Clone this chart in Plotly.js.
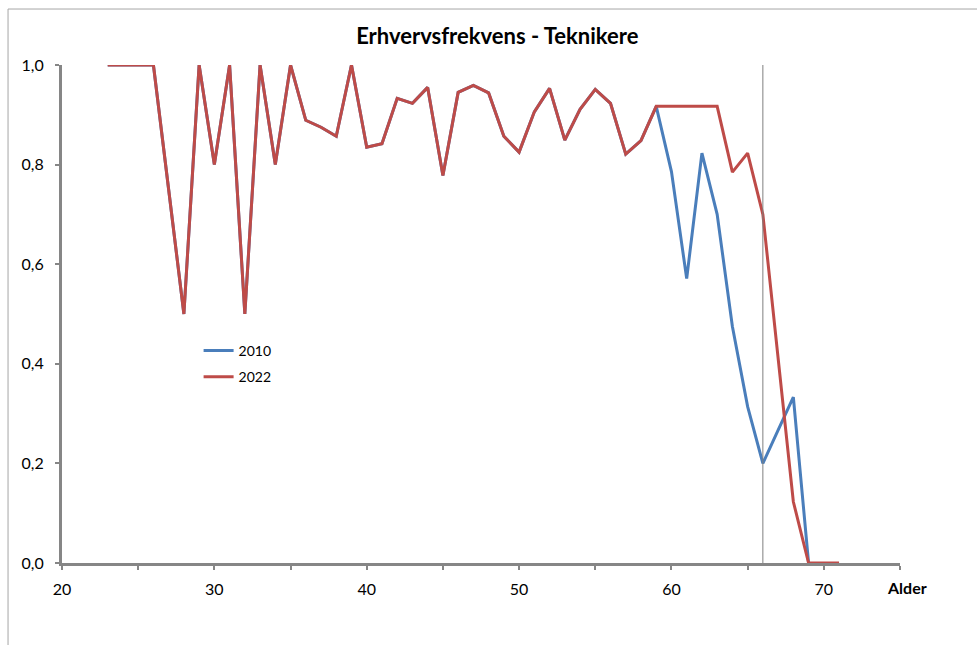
<!DOCTYPE html>
<html>
<head>
<meta charset="utf-8">
<script src="https://cdn.plot.ly/plotly-3.0.1.min.js"></script>
<style>html,body{margin:0;padding:0;background:#fff;}#chart{width:977px;height:645px;}</style>
</head>
<body>
<div id="chart"></div>
<script>
const ages2010 = [23,24,25,26,27,28,29,30,31,32,33,34,35,36,37,38,39,40,41,42,43,44,45,46,47,48,49,50,51,52,53,54,55,56,57,58,59,60,61,62,63,64,65,66,67,68,69];
const values2010 = [1,1,1,1,0.75,0.5,1,0.8,1,0.5,1,0.8,1,0.889,0.875,0.857,1,0.835,0.842,0.933,0.923,0.955,0.778,0.945,0.959,0.944,0.857,0.825,0.906,0.953,0.849,0.911,0.951,0.923,0.821,0.848,0.917,0.786,0.571,0.823,0.7,0.475,0.314,0.2,0.267,0.333,0];
const ages2022 = [23,24,25,26,27,28,29,30,31,32,33,34,35,36,37,38,39,40,41,42,43,44,45,46,47,48,49,50,51,52,53,54,55,56,57,58,59,60,61,62,63,64,65,66,67,68,69,70,71];
const values2022 = [1,1,1,1,0.75,0.5,1,0.8,1,0.5,1,0.8,1,0.889,0.875,0.857,1,0.835,0.842,0.933,0.923,0.955,0.778,0.945,0.959,0.944,0.857,0.825,0.906,0.953,0.849,0.911,0.951,0.923,0.821,0.848,0.917,0.917,0.917,0.917,0.917,0.785,0.823,0.7,0.41,0.123,0,0,0];
const xTickVals = [20,25,30,35,40,45,50,55,60,65,70,75];
const xTickText = ['20','','30','','40','','50','','60','','70',''];
const yTickVals = [0,0.2,0.4,0.6,0.8,1.0];
const yTickText = ['0,0','0,2','0,4','0,6','0,8','1,0'];
const markerAge = 66;
const seriesNames = ['2010','2022'];

const FONT = 'Lato, "Open Sans", sans-serif';
const GRAY = '#868686';

const traces = [
  {x: ages2010, y: values2010, name: seriesNames[0], type: 'scatter', mode: 'lines',
   line: {color: '#4a7ebb', width: 3}, legendgroup: 'a'},
  {x: ages2022, y: values2022, name: seriesNames[1], type: 'scatter', mode: 'lines',
   line: {color: '#be4b48', width: 3}, legendgroup: 'b'}
];

const layout = {
  width: 977, height: 645,
  margin: {l: 62, r: 77, t: 65, b: 82},
  paper_bgcolor: '#fff', plot_bgcolor: '#fff',
  font: {family: FONT, size: 16, color: '#000'},
  showlegend: true,
  hovermode: false,
  title: {text: '<b>Erhvervsfrekvens - Teknikere</b>', font: {family: FONT, size: 22, color: '#000'},
          x: 0.509, xanchor: 'center', y: 0.943, yanchor: 'middle'},
  xaxis: {range: [20, 75], tickmode: 'array', tickvals: xTickVals, ticktext: xTickText,
          showline: true, linecolor: GRAY, linewidth: 3, ticks: 'outside', ticklen: 4,
          tickwidth: 2, tickcolor: GRAY, showgrid: false, zeroline: false,
          ticklabelstandoff: 6, tickfont: {family: FONT, size: 16, color: '#000'}},
  yaxis: {range: [0, 1], tickmode: 'array', tickvals: yTickVals, ticktext: yTickText,
          showline: true, linecolor: GRAY, linewidth: 3, ticks: 'outside', ticklen: 4,
          tickwidth: 2, tickcolor: GRAY, showgrid: false, zeroline: false,
          ticklabelstandoff: 8, tickfont: {family: FONT, size: 16, color: '#000'}},
  legend: {x: 0.163, y: 0.458, xanchor: 'left', yanchor: 'top', bgcolor: 'rgba(0,0,0,0)',
           font: {family: FONT, size: 14, color: '#000'}, traceorder: 'grouped', tracegroupgap: 5,
           itemwidth: 30},
  shapes: [
    {type: 'line', xref: 'x', yref: 'y', x0: markerAge, x1: markerAge, y0: 0, y1: 1,
     line: {color: '#7f7f7f', width: 1}},
    {type: 'line', xref: 'paper', yref: 'paper', x0: -0.0644, x1: -0.0644, y0: -0.17, y1: 1.1124,
     line: {color: '#a6a6a6', width: 1}},
    {type: 'line', xref: 'paper', yref: 'paper', x0: -0.0644, x1: 1.1, y0: 1.1124, y1: 1.1124,
     line: {color: '#a6a6a6', width: 1}}
  ],
  annotations: [
    {text: '<b>Alder</b>', xref: 'paper', yref: 'paper', x: 1.008, y: -0.05,
     xanchor: 'center', yanchor: 'middle', showarrow: false,
     font: {family: FONT, size: 16, color: '#000'}}
  ]
};

Plotly.newPlot('chart', traces, layout, {displayModeBar: false, staticPlot: true});
</script>
</body>
</html>
